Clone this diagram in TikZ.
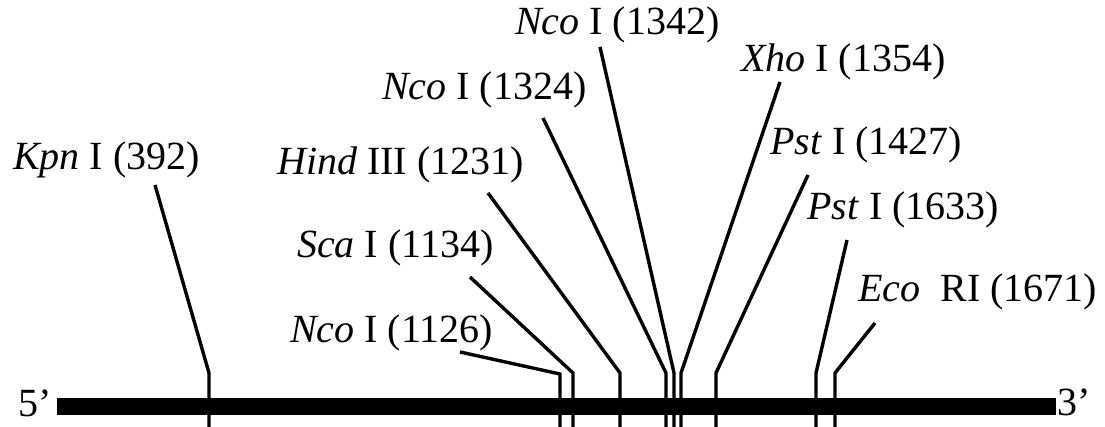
\documentclass[tikz,border=0pt]{standalone}
\usepackage{fontspec}
\setmainfont{Liberation Serif}
\begin{document}
\begin{tikzpicture}[x=1pt,y=-1pt,
  lab/.style={anchor=base west, inner sep=0pt, font=\fontsize{40}{48}\selectfont},
  siteline/.style={line width=3.4pt, line join=miter}]
\useasboundingbox (0,0) rectangle (1105,427);
\clip (0,0) rectangle (1105,427);
% DNA bar
\node[fill=black, inner sep=0pt, minimum width=999pt, minimum height=17pt, anchor=north west] (bar) at (57,398) {};
\node[lab] (five) at (18,416) {5’};
\node[lab] (three) at (1057,415) {3’};
% labels
\node[lab] (kpn)  at (13,170)  {\textit{Kpn} I (392)};
\node[lab] (nco1) at (290,343) {\textit{Nco} I (1126)};
\node[lab] (sca)  at (297,258) {\textit{Sca} I (1134)};
\node[lab] (hind) at (277,175) {\textit{Hind} III (1231)};
\node[lab] (nco2) at (382,100) {\textit{Nco} I (1324)};
\node[lab] (nco3) at (515,35)  {\textit{Nco} I (1342)};
\node[lab] (xho)  at (741,72)  {\textit{Xho} I (1354)};
\node[lab] (pst1) at (770,155) {\textit{Pst} I (1427)};
\node[lab] (pst2) at (807,220) {\textit{Pst} I (1633)};
\node[lab] (eco)  at (858,302) {\textit{Eco}\ \ RI (1671)};
% connector end points
\coordinate (kpnT) at (155,185);  \coordinate (kpnE) at (209,373);  \coordinate (kpnB) at (209,430);
\coordinate (nco1T) at (460,352); \coordinate (nco1E) at (560,374); \coordinate (nco1B) at (560,430);
\coordinate (scaT) at (470,277);  \coordinate (scaE) at (573,373);  \coordinate (scaB) at (573,430);
\coordinate (hindT) at (488,193); \coordinate (hindE) at (620,373); \coordinate (hindB) at (620,430);
\coordinate (nco2T) at (543,118); \coordinate (nco2E) at (666,373); \coordinate (nco2B) at (666,430);
\coordinate (nco3T) at (600,47);  \coordinate (nco3E) at (674,373); \coordinate (nco3B) at (674,430);
\coordinate (xhoT) at (780,82);   \coordinate (xhoE) at (681,373);  \coordinate (xhoB) at (681,430);
\coordinate (pst1T) at (808,175); \coordinate (pst1E) at (716,373); \coordinate (pst1B) at (716,430);
\coordinate (pst2T) at (847,240); \coordinate (pst2E) at (816,373); \coordinate (pst2B) at (816,430);
\coordinate (ecoT) at (875,323);  \coordinate (ecoE) at (835,373);  \coordinate (ecoB) at (835,430);
% connectors
\foreach \s in {kpn,nco1,sca,hind,nco2,nco3,xho,pst1,pst2,eco}
  \draw[siteline] (\s T) -- (\s E) -- (\s B);
\end{tikzpicture}
\end{document}
